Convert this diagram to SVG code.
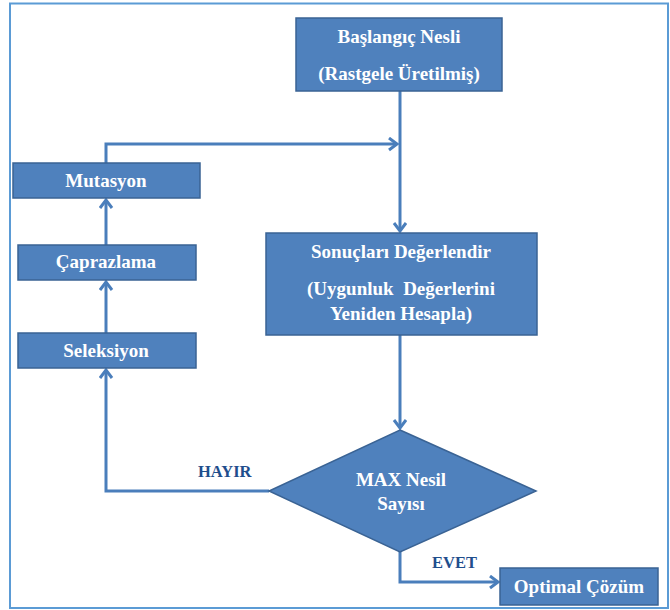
<svg xmlns="http://www.w3.org/2000/svg" width="670" height="610" viewBox="0 0 670 610">
<style>
.box{fill:#4F81BD;stroke:#3A6394;stroke-width:1.5}
.t{font-family:"Liberation Serif","Times New Roman",serif;font-weight:bold;font-size:19px;fill:#FFFFFF;text-anchor:middle}
.lbl{font-family:"Liberation Serif","Times New Roman",serif;font-weight:bold;font-size:16.5px;fill:#1F4E8C}
.c{fill:none;stroke:#4A7EBB;stroke-width:3}
</style>
<defs>
<marker id="ah" markerUnits="userSpaceOnUse" markerWidth="14" markerHeight="16" refX="10" refY="7" orient="auto" viewBox="0 0 14 16">
<path d="M2,1 L10,7 L2,13" fill="none" stroke="#4A7EBB" stroke-width="3"/>
</marker>
</defs>
<rect x="10" y="3.5" width="658" height="604.5" fill="#FFFFFF" stroke="#5B9BD5" stroke-width="2"/>
<g id="connectors">
<path class="c" d="M400,91 V231" marker-end="url(#ah)"/>
<path class="c" d="M400,335 V428" marker-end="url(#ah)"/>
<path class="c" d="M269,491 H106 V370" marker-end="url(#ah)"/>
<path class="c" d="M106,333 V282" marker-end="url(#ah)"/>
<path class="c" d="M106,245 V200" marker-end="url(#ah)"/>
<path class="c" d="M106,163 V144 H397" marker-end="url(#ah)"/>
<path class="c" d="M400,552 V582 H498" marker-end="url(#ah)"/>
</g>
<g id="baslangic">
<rect class="box" x="296" y="18" width="206" height="73"/>
<text class="t" x="399" y="43">Başlangıç Nesli</text>
<text class="t" x="399" y="80">(Rastgele Üretilmiş)</text>
</g>
<g id="sonuclari">
<rect class="box" x="266" y="233" width="271" height="102"/>
<text class="t" x="401" y="258">Sonuçları Değerlendir</text>
<text class="t" x="401" y="295" xml:space="preserve">(Uygunluk  Değerlerini</text>
<text class="t" x="401" y="320">Yeniden Hesapla)</text>
</g>
<g id="mutasyon">
<rect class="box" x="13" y="163" width="187" height="35"/>
<text class="t" x="106" y="187">Mutasyon</text>
</g>
<g id="caprazlama">
<rect class="box" x="18" y="245" width="178" height="35"/>
<text class="t" x="106" y="268">Çaprazlama</text>
</g>
<g id="seleksiyon">
<rect class="box" x="18" y="333" width="178" height="35"/>
<text class="t" x="106" y="357">Seleksiyon</text>
</g>
<g id="karar">
<polygon class="box" points="400,430 536,491 400,552 269,491"/>
<text class="t" x="401" y="486">MAX Nesil</text>
<text class="t" x="401" y="510">Sayısı</text>
</g>
<g id="optimal">
<rect class="box" x="500" y="568" width="158" height="37"/>
<text class="t" x="579" y="593">Optimal Çözüm</text>
</g>
<g id="labels">
<text class="lbl" x="198" y="477">HAYIR</text>
<text class="lbl" x="432" y="568">EVET</text>
</g>
</svg>
